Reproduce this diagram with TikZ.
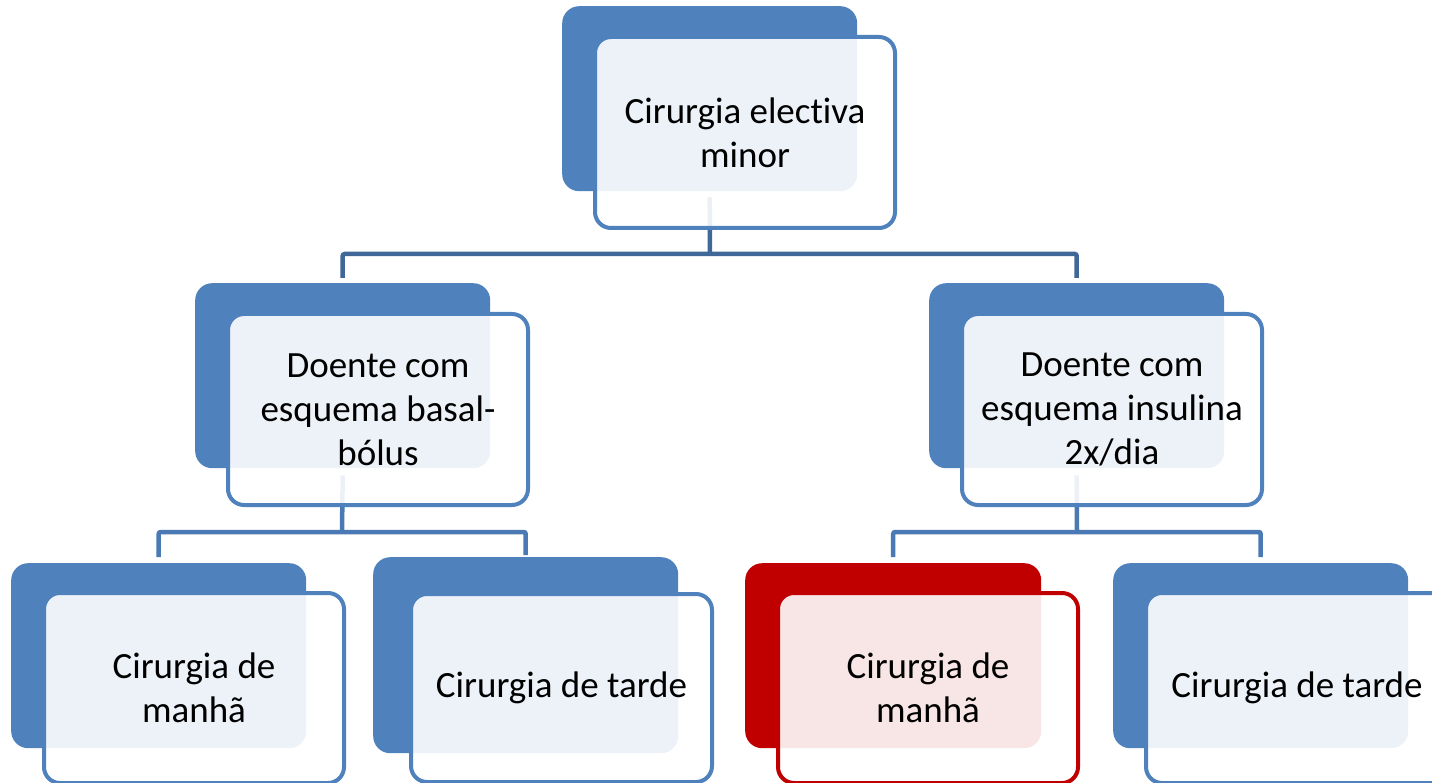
\documentclass[tikz,border=0pt]{standalone}
\usepackage{fontspec}
\setmainfont{Carlito}[Ligatures={NoCommon}]
\definecolor{acc}{HTML}{4F81BD}
\definecolor{accred}{HTML}{C00000}
\definecolor{conntop}{HTML}{3F6898}
\definecolor{connlow}{HTML}{4A79B4}
\tikzset{
  backbox/.style={fill=#1, draw=none, rounded corners=17pt, anchor=north west, inner sep=0pt},
  frontbox/.style={draw=#1, line width=4pt, fill=white, fill opacity=0.9, text opacity=1,
    rounded corners=16pt, anchor=north west, inner sep=0pt,
    minimum width=300pt, minimum height=190pt, align=center, text=black,
    font=\fontsize{37}{44}\selectfont},
  conn/.style={draw=#1, line width=4.5pt, rounded corners=2pt},
}
\begin{document}
\begin{tikzpicture}[x=1pt,y=-1pt]
\useasboundingbox (0,0) rectangle (1432,783);
% junction coordinates
\coordinate (j1) at (710,254);
\coordinate (j2) at (342,532);
\coordinate (j3) at (1077,532);
% back shapes
\node[backbox=acc, minimum width=295pt, minimum height=185pt] (bT) at (562,6) {};
\node[backbox=acc, minimum width=295pt, minimum height=185pt] (bA) at (195,283) {};
\node[backbox=acc, minimum width=295pt, minimum height=185pt] (bB) at (929,283) {};
\node[backbox=acc, minimum width=295pt, minimum height=185pt] (bA1) at (11,563) {};
\node[backbox=acc, minimum width=305pt, minimum height=196pt] (bA2) at (373,557) {};
\node[backbox=accred, minimum width=296pt, minimum height=185pt] (bB1) at (745,563) {};
\node[backbox=acc, minimum width=295pt, minimum height=185pt] (bB2) at (1113,563) {};
% connectors
\draw[conn=conntop] ([yshift=-6pt]bT.south) -- (j1);
\draw[conn=conntop] ([yshift=5pt]bA.north) |- (j1) -| ([yshift=5pt]bB.north);
\draw[conn=connlow] ([yshift=-7pt]bA.south) -- (j2);
\draw[conn=connlow] ([yshift=6pt]bA1.north) |- (j2) -| ([yshift=2pt]bA2.north);
\draw[conn=connlow] ([yshift=-7pt]bB.south) -- (j3);
\draw[conn=connlow] ([yshift=6pt]bB1.north) |- (j3) -| ([yshift=6pt]bB2.north);
% front shapes with text
\node[frontbox=acc, minimum height=191pt] (fT) at (593,35) {Cirurgia electiva\\minor};
\node[frontbox=acc, minimum height=191pt] (fA) at (226,312) {Doente com\\esquema basal-\\bólus};
\node[frontbox=acc, minimum height=191pt] (fB) at (960,312) {Doente com\\esquema insulina\\2x/dia};
\node[frontbox=acc] (fA1) at (42,591) {Cirurgia de\\manhã};
\node[frontbox=acc, minimum width=301pt, minimum height=188pt] (fA2) at (409,592) {Cirurgia de tarde};
\node[frontbox=accred] (fB1) at (776,591) {Cirurgia de\\manhã};
\node[frontbox=acc, minimum width=302pt] (fB2) at (1144,591) {Cirurgia de tarde};
\end{tikzpicture}
\end{document}
